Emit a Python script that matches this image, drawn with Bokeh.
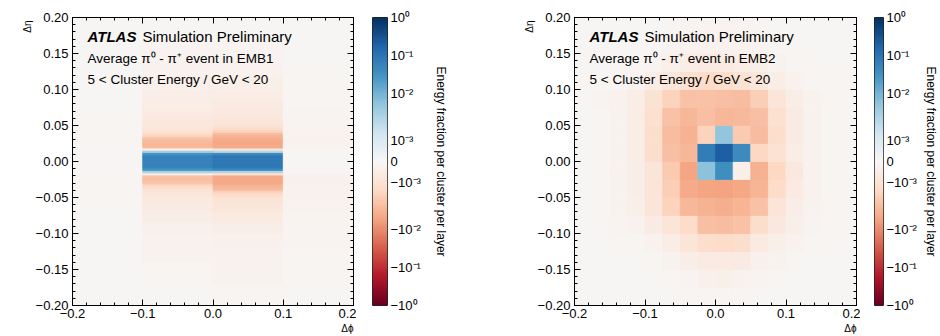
import numpy as np
from bokeh.plotting import figure
from bokeh.models import (LinearColorMapper, FixedTicker, CustomJSTickFormatter,
                          LinearAxis, Label, Range1d, ColumnDataSource, Title)
from bokeh.layouts import row
from bokeh.embed import file_html
from bokeh.resources import INLINE

# ---------------- data (energy fractions in units of 1e-3) ----------------
UNIT = 1e-3

# EMB1: 4 phi columns, eta strips (coarse outside, fine 0.003125 in the core)
emb1_phi_edges = [-0.2, -0.1, 0.0, 0.1, 0.2]
emb1_eta_edges = ([-0.2, -0.17, -0.14, -0.12, -0.1, -0.085, -0.07, -0.06, -0.05]
                  + [round(-0.05 + 0.003125 * k, 6) for k in range(1, 33)]
                  + [0.06, 0.07, 0.085, 0.1, 0.12, 0.14, 0.17, 0.2])

emb1_col0 = [-0.1, -0.1, -0.1, -0.1, -0.1, -0.1, -0.1, -0.12,
             -0.12, -0.12, -0.12, -0.12, -0.13, -0.13, -0.14, -0.14, -0.15, -0.15, -0.12, -0.1,
             -0.1, -0.1, -0.1, -0.1, -0.1, -0.1, -0.1, -0.1, -0.1, -0.1,
             -0.12, -0.15, -0.15, -0.14, -0.14, -0.13, -0.13, -0.12, -0.12, -0.12,
             -0.12, -0.12, -0.1, -0.1, -0.1, -0.1, -0.1, -0.1]
emb1_col1 = [-0.1, -0.12, -0.25, -0.3, -0.35, -0.45, -0.55, -0.65,
             -0.7, -0.8, -0.9, -1.0, -1.2, -1.5, -1.9, -2.2, -2.4, -2.0, -0.5, 3.0,
             30.0, 55.0, 60.0, 60.0, 60.0, 60.0, 55.0, 30.0, 3.0, -0.5,
             -2.5, -3.0, -2.8, -2.5, -2.0, -1.6, -1.3, -1.0, -0.9, -0.8,
             -0.7, -0.6, -0.5, -0.45, -0.35, -0.3, -0.2, -0.1]
emb1_col2 = [-0.12, -0.25, -0.3, -0.35, -0.45, -0.6, -0.8, -0.95,
             -1.1, -1.3, -1.6, -2.3, -3.0, -3.6, -4.2, -4.5, -4.6, -4.2, -1.0, 2.5,
             40.0, 80.0, 85.0, 85.0, 85.0, 85.0, 80.0, 40.0, 2.0, -1.0,
             -4.0, -4.5, -4.5, -4.2, -3.8, -3.2, -2.4, -1.6, -1.3, -1.1,
             -0.9, -0.75, -0.6, -0.5, -0.4, -0.3, -0.2, -0.1]
emb1_col3 = [-0.1, -0.12, -0.15, -0.18, -0.2, -0.2, -0.22, -0.25,
             -0.25, -0.27, -0.3, -0.3, -0.32, -0.35, -0.35, -0.35, -0.35, -0.3, -0.2, -0.1,
             -0.1, -0.1, -0.1, -0.1, -0.1, -0.1, -0.1, -0.1, -0.1, -0.1,
             -0.2, -0.3, -0.3, -0.3, -0.28, -0.25, -0.25, -0.22, -0.2, -0.2,
             -0.2, -0.18, -0.15, -0.15, -0.12, -0.1, -0.1, -0.1]
emb1_columns = [emb1_col0, emb1_col1, emb1_col2, emb1_col3]

# EMB2: 16 x 16 cells of 0.025 x 0.025, rows from bottom (eta=-0.2) to top
emb2_phi_edges = [-0.2, -0.175, -0.15, -0.125, -0.1, -0.075, -0.05, -0.025, 0.0,
                  0.025, 0.05, 0.075, 0.1, 0.125, 0.15, 0.175, 0.2]
emb2_eta_edges = [-0.2, -0.175, -0.15, -0.125, -0.1, -0.075, -0.05, -0.025, 0.0,
                  0.025, 0.05, 0.075, 0.1, 0.125, 0.15, 0.175, 0.2]
emb2_rows = [
    [-0.1, -0.1, -0.1, -0.1, -0.1, -0.1, -0.12, -0.15, -0.15, -0.12, -0.1, -0.1, -0.1, -0.1, -0.1, -0.1],
    [-0.1, -0.1, -0.1, -0.1, -0.1, -0.12, -0.2, -0.35, -0.4, -0.3, -0.2, -0.12, -0.1, -0.1, -0.1, -0.1],
    [-0.1, -0.1, -0.1, -0.1, -0.15, -0.3, -0.45, -0.55, -0.6, -0.55, -0.35, -0.25, -0.15, -0.1, -0.1, -0.1],
    [-0.1, -0.1, -0.12, -0.15, -0.3, -0.5, -0.9, -1.2, -1.3, -1.2, -0.6, -0.4, -0.3, -0.15, -0.12, -0.1],
    [-0.1, -0.1, -0.2, -0.3, -0.55, -0.9, -1.3, -2.2, -2.3, -2.0, -1.2, -0.7, -0.4, -0.2, -0.12, -0.1],
    [-0.1, -0.15, -0.25, -0.4, -0.9, -1.6, -2.9, -3.3, -3.7, -3.0, -2.0, -0.9, -0.45, -0.25, -0.15, -0.1],
    [-0.1, -0.15, -0.25, -0.45, -0.9, -1.7, -4.3, -5.0, -5.2, -4.6, -3.0, -1.3, -0.6, -0.3, -0.15, -0.1],
    [-0.1, -0.15, -0.3, -0.45, -0.9, -1.8, -5.0, 5.5, 35.0, -0.4, -3.6, -1.4, -0.7, -0.3, -0.15, -0.1],
    [-0.1, -0.15, -0.25, -0.5, -1.2, -2.2, -2.8, 70.0, 220.0, 40.0, -1.4, -1.0, -0.5, -0.3, -0.15, -0.1],
    [-0.1, -0.15, -0.25, -0.5, -1.2, -2.3, -3.2, -1.6, 5.0, -1.8, -2.4, -1.2, -0.55, -0.3, -0.15, -0.1],
    [-0.1, -0.15, -0.25, -0.5, -1.1, -2.0, -2.8, -2.2, -2.9, -2.6, -2.1, -1.1, -0.55, -0.3, -0.15, -0.1],
    [-0.1, -0.2, -0.3, -0.5, -1.0, -1.6, -2.0, -2.0, -2.2, -2.3, -1.7, -0.9, -0.5, -0.25, -0.15, -0.1],
    [-0.15, -0.15, -0.15, -0.2, -0.5, -0.8, -1.1, -1.3, -1.2, -1.0, -0.8, -0.5, -0.3, -0.15, -0.15, -0.15],
    [-0.1, -0.1, -0.12, -0.15, -0.2, -0.35, -0.5, -0.6, -0.6, -0.5, -0.4, -0.25, -0.15, -0.12, -0.1, -0.1],
    [-0.1, -0.1, -0.1, -0.1, -0.15, -0.2, -0.3, -0.3, -0.3, -0.3, -0.2, -0.15, -0.1, -0.1, -0.1, -0.1],
    [-0.1, -0.1, -0.1, -0.1, -0.1, -0.15, -0.2, -0.2, -0.2, -0.2, -0.15, -0.1, -0.1, -0.1, -0.1, -0.1],
]

cb_tick_values = [-1.0, -0.1, -0.01, -0.001, 0.0, 0.001, 0.01, 0.1, 1.0]
cb_tick_labels = ["−10⁰", "−10⁻¹", "−10⁻²", "−10⁻³", "0", "10⁻³", "10⁻²", "10⁻¹", "10⁰"]
x_ticks = [-0.2, -0.1, 0.0, 0.1, 0.2]
y_ticks = [-0.2, -0.15, -0.1, -0.05, 0.0, 0.05, 0.1, 0.15, 0.2]
x_minor = [round(-0.2 + 0.02 * k, 4) for k in range(21)]
y_minor = [round(-0.2 + 0.01 * k, 4) for k in range(41)]

# ---------------- colour norm (symmetric log, linthresh 2e-3) ----------------
LINTHRESH = 2e-3
LINSCALE = 1.0


def symlog_u(v):
    v = np.asarray(v, float)
    s = LINSCALE / (1 - 1 / 10)
    a = np.abs(v)
    t = np.where(a <= LINTHRESH, a / LINTHRESH * s,
                 s + np.log10(np.maximum(a, 1e-300) / LINTHRESH))
    tmax = s + np.log10(1.0 / LINTHRESH)
    return np.sign(v) * t / tmax


RDBU = ["#67001f", "#b2182b", "#d6604d", "#f4a582", "#fddbc7", "#f7f7f7",
        "#d1e5f0", "#92c5de", "#4393c3", "#2166ac", "#053061"]


def interp_pal(pal, n):
    rgb = np.array([[int(c[i:i + 2], 16) for i in (1, 3, 5)] for c in pal], float)
    xs = np.linspace(0, 1, len(pal))
    xn = np.linspace(0, 1, n)
    out = np.stack([np.interp(xn, xs, rgb[:, k]) for k in range(3)], 1)
    return ["#%02x%02x%02x" % tuple(int(round(x)) for x in r) for r in out]


PALETTE = interp_pal(RDBU, 256)
FONT = "Liberation Sans"


def make_mapper():
    return LinearColorMapper(palette=PALETTE, low=-1, high=1)


def style_axis(ax, ticker, fmt_code, show_labels=True, standoff=4):
    ax.ticker = ticker
    ax.formatter = CustomJSTickFormatter(code=fmt_code if show_labels else "return ''")
    ax.major_tick_in = 6
    ax.major_tick_out = 0
    ax.minor_tick_in = 3
    ax.minor_tick_out = 0
    ax.axis_line_color = "black"
    ax.major_tick_line_color = "black"
    ax.minor_tick_line_color = "black"
    ax.major_label_text_font = FONT
    ax.major_label_text_font_size = "13px"
    ax.major_label_text_color = "black"
    ax.major_label_standoff = standoff if show_labels else 0


def heat_fig(cells, width, mb_left, mb_right, layer):
    mapper = make_mapper()
    src = ColumnDataSource(dict(left=cells[0], right=cells[1], bottom=cells[2],
                                top=cells[3], u=symlog_u(np.array(cells[4]) * UNIT)))
    p = figure(width=width, height=336, x_range=Range1d(-0.2, 0.2), y_range=Range1d(-0.2, 0.2),
               output_backend="svg", toolbar_location=None,
               min_border_left=mb_left, min_border_right=mb_right,
               min_border_top=17, min_border_bottom=31)
    p.quad(left="left", right="right", bottom="bottom", top="top", source=src,
           fill_color={"field": "u", "transform": mapper},
           line_color={"field": "u", "transform": mapper}, line_width=0.8)
    p.grid.visible = False
    p.outline_line_color = "black"
    p.background_fill_color = "white"
    p.border_fill_color = "white"
    xt = FixedTicker(ticks=x_ticks, minor_ticks=x_minor)
    yt = FixedTicker(ticks=y_ticks, minor_ticks=y_minor)
    xfmt = "return (tick < -1e-9 ? '\u2212' : '') + Math.abs(tick).toFixed(1);"
    yfmt = "return (tick < -1e-9 ? '\u2212' : '') + Math.abs(tick).toFixed(2);"
    style_axis(p.xaxis[0], xt, xfmt, standoff=3)
    style_axis(p.yaxis[0], yt, yfmt, standoff=4)
    ax_top = LinearAxis()
    style_axis(ax_top, FixedTicker(ticks=x_ticks, minor_ticks=x_minor), xfmt, show_labels=False)
    p.add_layout(ax_top, "above")
    ax_right = LinearAxis()
    style_axis(ax_right, FixedTicker(ticks=y_ticks, minor_ticks=y_minor), yfmt, show_labels=False)
    p.add_layout(ax_right, "right")

    def lab(x, y, text, size, style="normal", **kw):
        p.add_layout(Label(x=x, y=y, x_units="screen", y_units="screen", text=text,
                           text_font=FONT, text_font_size=size, text_font_style=style,
                           text_color="black", **kw))

    lab(15, 261, "ATLAS", "15px", "bold italic")
    lab(70, 261, "Simulation Preliminary", "15px")
    lab(15, 240, "Average π⁰ - π⁺ event in " + layer, "13.5px")
    lab(15, 219, "5 < Cluster Energy / GeV < 20", "13.5px")

    t_eta = Title(text="Δη", align="right", text_font=FONT, text_font_size="10px",
                  text_font_style="normal", text_color="black", standoff=0, offset=3)
    p.add_layout(t_eta, "left")
    t_phi = Title(text="Δϕ", align="right", text_font=FONT, text_font_size="10px",
                  text_font_style="normal", text_color="black", standoff=0)
    p.add_layout(t_phi, "below")
    return p


def cbar_fig(width, mb_left, mb_right, label_standoff):
    mapper = make_mapper()
    p = figure(width=width, height=336, x_range=Range1d(0, 1), y_range=Range1d(-1, 1),
               output_backend="svg", toolbar_location=None,
               min_border_left=mb_left, min_border_right=mb_right,
               min_border_top=17, min_border_bottom=31,
               x_axis_location=None, y_axis_location="right")
    ramp = np.linspace(-1, 1, 512).reshape(-1, 1)
    p.image(image=[ramp], x=0, y=-1, dw=1, dh=2, color_mapper=mapper)
    p.grid.visible = False
    p.outline_line_color = "#222222"
    p.border_fill_color = "white"
    ax = p.yaxis[0]
    tick_u = [float(t) for t in symlog_u(cb_tick_values)]
    ax.ticker = FixedTicker(ticks=tick_u, minor_ticks=[])
    ax.formatter = CustomJSTickFormatter(
        args=dict(cb_ticks=tick_u, cb_labels=cb_tick_labels),
        code="""let best = 0, d = 1e9;
for (let i = 0; i < cb_ticks.length; i++) { const dd = Math.abs(cb_ticks[i] - tick); if (dd < d) { d = dd; best = i; } }
return cb_labels[best];""")
    ax.major_tick_in = 0
    ax.major_tick_out = 0
    ax.minor_tick_in = 0
    ax.minor_tick_out = 0
    ax.axis_line_color = None
    ax.major_label_text_font = FONT
    ax.major_label_text_font_size = "13px"
    ax.major_label_text_color = "black"
    ax.major_label_standoff = 3
    ax.axis_label = "Energy fraction per cluster per layer"
    ax.axis_label_text_font = FONT
    ax.axis_label_text_font_size = "12px"
    ax.axis_label_text_font_style = "normal"
    ax.axis_label_text_color = "black"
    ax.axis_label_standoff = label_standoff
    return p


def emb1_cells():
    L, R, B, T, V = [], [], [], [], []
    for ci, col in enumerate(emb1_columns):
        for bi, v in enumerate(col):
            L.append(emb1_phi_edges[ci]); R.append(emb1_phi_edges[ci + 1])
            B.append(emb1_eta_edges[bi]); T.append(emb1_eta_edges[bi + 1])
            V.append(v)
    return L, R, B, T, V


def emb2_cells():
    L, R, B, T, V = [], [], [], [], []
    for ri, rw in enumerate(emb2_rows):
        for ci, v in enumerate(rw):
            L.append(emb2_phi_edges[ci]); R.append(emb2_phi_edges[ci + 1])
            B.append(emb2_eta_edges[ri]); T.append(emb2_eta_edges[ri + 1])
            V.append(v)
    return L, R, B, T, V


p1 = heat_fig(emb1_cells(), 356, 72, 3, "EMB1")
c1 = cbar_fig(114, 16, 83, 10)
p2 = heat_fig(emb2_cells(), 390, 104, 4, "EMB2")
c2 = cbar_fig(80, 14, 52, 4)

layout = row(p1, c1, p2, c2, spacing=0)
open("out.html", "w").write(file_html(layout, INLINE))
